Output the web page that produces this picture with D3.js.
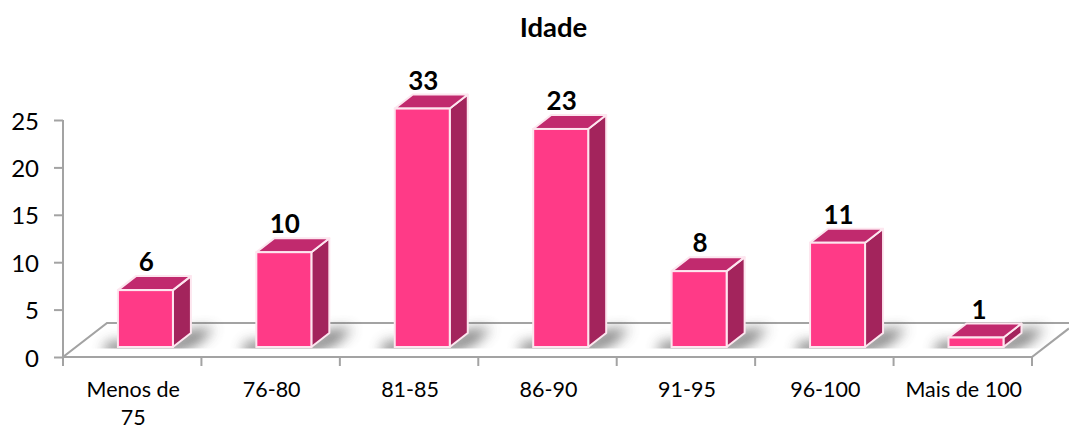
<!DOCTYPE html>
<html><head><meta charset="utf-8">
<script src="https://cdnjs.cloudflare.com/ajax/libs/d3/7.8.5/d3.min.js"></script>
<style>html,body{margin:0;padding:0;background:#fff}svg{display:block}text{font-family:Lato,"Open Sans",sans-serif;fill:#000}</style>
</head><body><div id="c"></div>
<script>
const categories=["Menos de 75","76-80","81-85","86-90","91-95","96-100","Mais de 100"];
const values=[6,10,33,23,8,11,1];
const yTicks=[0,5,10,15,20,25];
const title="Idade";

const W=1069,H=426;
const plot={l:63,r:1032,b:357,t:120};
const depth={dx:18,dy:-14};
const floorBack={dx:44,dy:-34};
const inset={dx:13.2,dy:-10};
const barW=55;
const clipMax=25.15;
const grey="#a3a3a3";

const x=d3.scaleBand().domain(categories).range([plot.l,plot.r]);
const y=d3.scaleLinear().domain([0,25]).range([plot.b,plot.t]);

const svg=d3.select("#c").append("svg").attr("width",W).attr("height",H).attr("viewBox",`0 0 ${W} ${H}`);
const defs=svg.append("defs");
const blur=defs.append("filter").attr("id","blur").attr("x","-40%").attr("y","-80%").attr("width","180%").attr("height","260%");
blur.append("feGaussianBlur").attr("stdDeviation",6.5);
defs.append("clipPath").attr("id","floorClip").append("rect").attr("x",0).attr("y",300).attr("width",W).attr("height",48.5);

svg.append("text").attr("x",553.5).attr("y",37).attr("text-anchor","middle").attr("font-weight",700).attr("font-size",27.5).text(title);

// floor
const floor=svg.append("g").attr("fill","none").attr("stroke",grey).attr("stroke-width",2.2);
floor.append("path").attr("d",d3.line()([[plot.l,plot.b],[plot.l+floorBack.dx,plot.b+floorBack.dy],[W,plot.b+floorBack.dy]]));
floor.append("path").attr("d",d3.line()([[plot.r,plot.b],[W,plot.b-(W-plot.r)*34/44]]));

// shadows
const sx=d=>x(d)+x.bandwidth()/2-barW/2+inset.dx;
svg.append("g").attr("clip-path","url(#floorClip)")
 .selectAll("path").data(categories).join("path")
 .attr("d",d=>{const a=sx(d);return d3.line()([[a-10,342],[a+barW,342],[a+barW+18,330],[a+barW+42,328],[a+barW+26,343],[a+barW,354],[a-15,354]]);})
 .attr("fill","#666").attr("opacity",.85).attr("filter","url(#blur)");

// axes
const yAxis=svg.append("g").attr("transform",`translate(${plot.l},0)`)
 .call(d3.axisLeft(y).tickValues(yTicks).tickSize(9).tickPadding(15));
yAxis.selectAll("path.domain").attr("d",`M0,${plot.t}V${plot.b}`);
const xAxis=svg.append("g").attr("transform",`translate(0,${plot.b})`)
 .call(d3.axisBottom(x).tickSize(0).tickFormat(""));
xAxis.selectAll(".tick").remove();
xAxis.selectAll("path.domain").attr("d",`M${plot.l},0H${plot.r}`);
xAxis.selectAll("line.t").data(d3.range(categories.length+1)).join("line").attr("class","t")
 .attr("x1",i=>plot.l+i*x.step()).attr("x2",i=>plot.l+i*x.step()).attr("y1",0).attr("y2",9);
svg.selectAll(".domain,.tick line,line.t").attr("stroke",grey).attr("stroke-width",2);
yAxis.selectAll("text").attr("font-size",24).attr("fill","#000").attr("font-family","Lato").attr("dy","0.38em");

// category labels
const catG=svg.append("g").attr("font-size",21.5).attr("text-anchor","middle");
categories.forEach(c=>{
  const parts=c==="Menos de 75"?["Menos de","75"]:[c];
  parts.forEach((t,i)=>catG.append("text").attr("x",x(c)+x.bandwidth()/2+1).attr("y",397+i*27.5).text(t));
});

// bars
const bars=svg.selectAll("g.bar").data(categories.map((c,i)=>({c,v:values[i]}))).join("g").attr("class","bar");
const base=plot.b+inset.dy;
const topOf=d=>y(Math.min(d.v,clipMax))+inset.dy;
const edge=a=>bars.append("path").attr("stroke","#fde6ef").attr("stroke-width",2).attr("stroke-linejoin","round").attr("d",a);
edge(d=>{const a=sx(d.c),t=topOf(d);return d3.line()([[a+barW,t],[a+barW+depth.dx,t+depth.dy],[a+barW+depth.dx,base+depth.dy],[a+barW,base]])+"Z";}).attr("fill","#a3245c");
edge(d=>{const a=sx(d.c),t=topOf(d);return d3.line()([[a,t],[a+depth.dx,t+depth.dy],[a+barW+depth.dx,t+depth.dy],[a+barW,t]])+"Z";}).attr("fill","#c12a6e");
bars.append("rect").attr("x",d=>sx(d.c)).attr("y",topOf).attr("width",barW).attr("height",d=>base-topOf(d))
 .attr("fill","#ff3a87").attr("stroke","#fde6ef").attr("stroke-width",2);
bars.append("text").attr("x",d=>sx(d.c)+barW/2+(d.v===1?3:1)).attr("y",d=>topOf(d)+depth.dy-5)
 .attr("text-anchor","middle").attr("font-weight",700).attr("font-size",26).text(d=>d.v);
</script></body></html>
